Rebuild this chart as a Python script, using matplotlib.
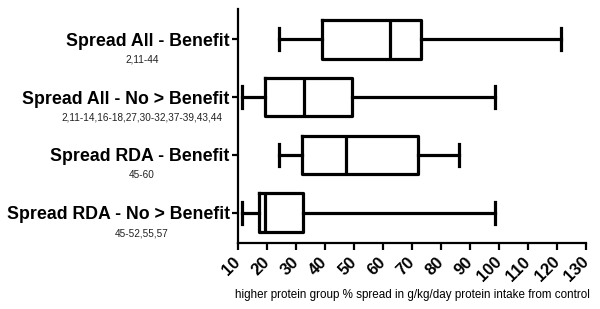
import matplotlib
matplotlib.use("Agg")
import matplotlib.pyplot as plt
from matplotlib.transforms import blended_transform_factory

plt.rcParams['font.family'] = ['Liberation Sans', 'DejaVu Sans']

# groups, top to bottom
labels = ['Spread All - Benefit', 'Spread All - No > Benefit',
          'Spread RDA - Benefit', 'Spread RDA - No > Benefit']
refs = ['2,11-44', '2,11-14,16-18,27,30-32,37-39,43,44',
        '45-60', '45-52,55,57']
whislo = [24.1, 11.3, 24.1, 11.3]
q1 = [39.0, 19.2, 32.2, 17.3]
med = [62.5, 32.8, 47.1, 19.4]
q3 = [73.2, 49.2, 72.1, 32.3]
whishi = [121.3, 98.6, 86.1, 98.6]
xticks = list(range(10, 131, 10))

stats = []
for i in range(len(labels)):
    stats.append({'whislo': whislo[i], 'q1': q1[i], 'med': med[i],
                  'q3': q3[i], 'whishi': whishi[i], 'fliers': []})

fig = plt.figure(figsize=(6.0, 3.09), dpi=100)
ax = fig.add_axes([238 / 600, 1 - 243 / 309, 348 / 600, 234 / 309])

positions = list(range(1, len(labels) + 1))
lw = 2.3
ax.bxp(stats, positions=positions, vert=False, widths=0.67,
       showfliers=False,
       boxprops=dict(color='black', linewidth=lw),
       medianprops=dict(color='black', linewidth=lw),
       whiskerprops=dict(color='black', linewidth=lw),
       capprops=dict(color='black', linewidth=lw),
       capwidths=0.38)

ax.set_xlim(10, 130)
ax.set_ylim(4.52, 0.48)
ax.spines['top'].set_visible(False)
ax.spines['right'].set_visible(False)
ax.spines['left'].set_linewidth(1.6)
ax.spines['bottom'].set_linewidth(1.6)

ax.set_yticks(positions)
ax.set_yticklabels(labels, fontsize=12.8, fontweight='bold')
ax.tick_params(axis='y', length=4, width=1.6, pad=2)

ax.set_xticks(xticks)
ax.set_xticklabels([str(t) for t in xticks], fontsize=12,
                   fontweight='bold', rotation=45, ha='right', va='center',
                   rotation_mode='anchor')
ax.tick_params(axis='x', length=5, width=1.6, pad=7)

trans = blended_transform_factory(fig.transFigure, ax.transData)
for p, r in zip(positions, refs):
    ax.text(142 / 600, p + 0.35, r, transform=trans, fontsize=7.2,
            ha='center', va='center', color='#222222')

fig.text(412 / 600, 1 - 295 / 309,
         'higher protein group % spread in g/kg/day protein intake from control',
         fontsize=8.4, ha='center', va='center')

fig.savefig('out.png', dpi=100)
